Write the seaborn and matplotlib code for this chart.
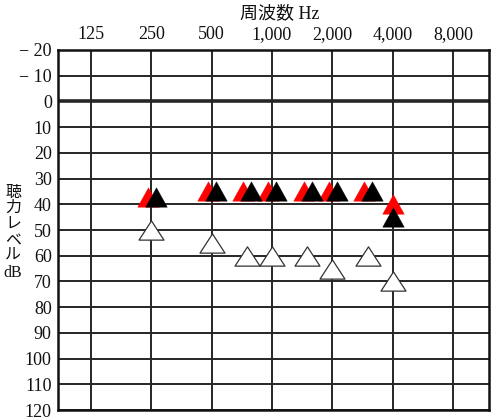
import numpy as np
import pandas as pd
import matplotlib
matplotlib.use("Agg")
import matplotlib.pyplot as plt
import matplotlib.transforms as mtransforms
import matplotlib.path as mpath
import seaborn as sns

# ---- data ----
freq_ticks = [125, 250, 500, 1000, 2000, 4000, 8000]
freq_labels = ["125", "250", "500", "1,000", "2,000", "4,000", "8,000"]
db_ticks = list(range(-20, 121, 10))
db_labels = ["− 20", "− 10"] + [str(v) for v in range(0, 121, 10)]

bone_freq = [250, 500, 750, 1000, 1500, 2000, 3000, 4000]
bone_red = [37, 35, 35, 35, 35, 35, 35, 40]
bone_black = [37, 35, 35, 35, 35, 35, 35, 45]

air_freq = [250, 500, 750, 1000, 1500, 2000, 3000, 4000]
air_db = [50, 55, 60, 60, 60, 65, 60, 70]

title_text = "周波数 Hz"
ylabel_chars = ["聴", "力", "レ", "ベ", "ル", "dB"]

# ---- style ----
sns.set_style("white")
plt.rcParams["font.family"] = ["Liberation Serif", "Noto Sans CJK JP", "DejaVu Sans"]

W, H = 500, 419
fig = plt.figure(figsize=(W / 100, H / 100), dpi=100)
ax = fig.add_axes([58 / W, 1 - 410 / H, (489 - 58) / W, (410 - 50) / H])

ax.set_xscale("log", base=2)

tri_filled = mpath.Path([(0, 0.9), (-1, -0.9), (1, -0.9), (0, 0.9)], closed=True)
tri_open = mpath.Path([(0, 0.77), (-1, -0.77), (1, -0.77), (0, 0.77)], closed=True)

df_bone = pd.DataFrame({"freq": bone_freq, "red": bone_red, "black": bone_black})
same = np.array(bone_red) == np.array(bone_black)

# red (left) and black (right) filled triangles, shifted sideways where they coincide
for col, color, shift, z in [("red", "#ff0000", -3.5, 3), ("black", "#000000", 4.5, 4)]:
    for flag in [True, False]:
        sub = df_bone[same == flag]
        dx = shift if flag else 0.0
        tr = ax.transData + mtransforms.ScaledTranslation(dx / 100, 0, fig.dpi_scale_trans)
        sns.scatterplot(data=sub, x="freq", y=col, marker=tri_filled, s=15.5 ** 2,
                        color=color, edgecolor=color, linewidth=0.3,
                        transform=tr, ax=ax, zorder=z, legend=False)

df_air = pd.DataFrame({"freq": air_freq, "db": air_db})
sns.scatterplot(data=df_air, x="freq", y="db", marker=tri_open, s=18 ** 2,
                color="white", edgecolor="#333333", linewidth=0.9,
                ax=ax, zorder=5, legend=False)

ax.set_xlabel("")
ax.set_ylabel("")
ax.set_xlim(125 * 2 ** -0.547, 8000 * 2 ** 0.597)
ax.set_ylim(120, -20)

ax.set_xticks(freq_ticks)
ax.set_xticklabels(freq_labels)
ax.xaxis.set_minor_locator(matplotlib.ticker.NullLocator())
ax.set_yticks(db_ticks)
ax.set_yticklabels(db_labels)
ax.xaxis.tick_top()
ax.tick_params(axis="x", length=0, pad=5, labelsize=13, colors="#111111")
ax.tick_params(axis="y", length=0, pad=4.5, labelsize=13, colors="#111111")

# grid
for f in freq_ticks:
    ax.axvline(f, color="#262626", lw=1.4, zorder=1)
for d in db_ticks:
    ax.axhline(d, color="#262626", lw=2.6 if d == 0 else 1.4, zorder=1)
for s in ax.spines.values():
    s.set_color("#111111")
    s.set_linewidth(1.8)

fig.text(280 / W, 1 - 14 / H, title_text, ha="center", va="center", fontsize=13, color="#111111")

y_pos = [193, 208, 225, 241, 256, 273]
for ch, yp in zip(ylabel_chars, y_pos):
    fig.text(13 / W, 1 - yp / H, ch, ha="center", va="center", fontsize=11.5, color="#111111")

fig.savefig("out.png", dpi=100)
